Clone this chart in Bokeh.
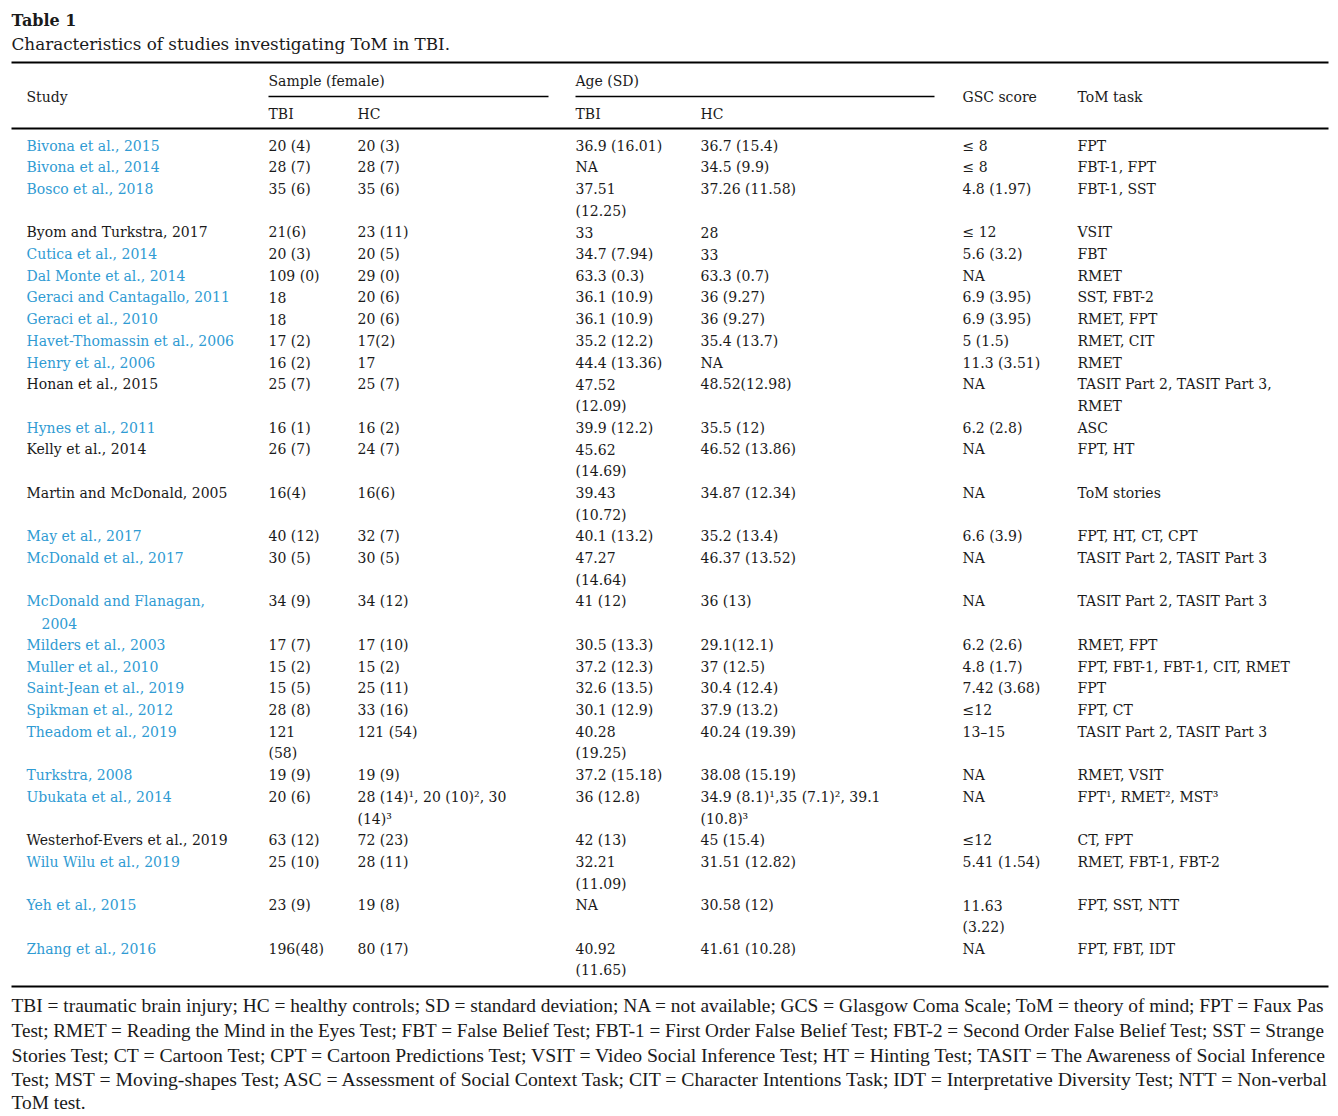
from bokeh.plotting import figure
from bokeh.models import Range1d, ColumnDataSource
from bokeh.core.properties import value
from bokeh.embed import file_html
from bokeh.resources import INLINE

# ---------------- data ----------------
title = "Table 1"
caption = "Characteristics of studies investigating ToM in TBI."

studies = ["Bivona et al., 2015", "Bivona et al., 2014", "Bosco et al., 2018",
           "Byom and Turkstra, 2017", "Cutica et al., 2014", "Dal Monte et al., 2014",
           "Geraci and Cantagallo, 2011", "Geraci et al., 2010", "Havet-Thomassin et al., 2006",
           "Henry et al., 2006", "Honan et al., 2015", "Hynes et al., 2011", "Kelly et al., 2014",
           "Martin and McDonald, 2005", "May et al., 2017", "McDonald et al., 2017",
           "McDonald and Flanagan,\n2004", "Milders et al., 2003", "Muller et al., 2010",
           "Saint-Jean et al., 2019", "Spikman et al., 2012", "Theadom et al., 2019",
           "Turkstra, 2008", "Ubukata et al., 2014", "Westerhof-Evers et al., 2019",
           "Wilu Wilu et al., 2019", "Yeh et al., 2015", "Zhang et al., 2016"]
linked = [1, 1, 1, 0, 1, 1, 1, 1, 1, 1, 0, 1, 0, 0, 1, 1, 1, 1, 1, 1, 1, 1, 1, 1, 0, 1, 1, 1]
sample_tbi = ["20 (4)", "28 (7)", "35 (6)", "21(6)", "20 (3)", "109 (0)", "18", "18", "17 (2)",
              "16 (2)", "25 (7)", "16 (1)", "26 (7)", "16(4)", "40 (12)", "30 (5)", "34 (9)",
              "17 (7)", "15 (2)", "15 (5)", "28 (8)", "121\n(58)", "19 (9)", "20 (6)", "63 (12)",
              "25 (10)", "23 (9)", "196(48)"]
sample_hc = ["20 (3)", "28 (7)", "35 (6)", "23 (11)", "20 (5)", "29 (0)", "20 (6)", "20 (6)",
             "17(2)", "17", "25 (7)", "16 (2)", "24 (7)", "16(6)", "32 (7)", "30 (5)", "34 (12)",
             "17 (10)", "15 (2)", "25 (11)", "33 (16)", "121 (54)", "19 (9)",
             "28 (14)¹, 20 (10)², 30\n(14)³", "72 (23)", "28 (11)", "19 (8)", "80 (17)"]
age_tbi = ["36.9 (16.01)", "NA", "37.51\n(12.25)", "33", "34.7 (7.94)", "63.3 (0.3)",
           "36.1 (10.9)", "36.1 (10.9)", "35.2 (12.2)", "44.4 (13.36)", "47.52\n(12.09)",
           "39.9 (12.2)", "45.62\n(14.69)", "39.43\n(10.72)", "40.1 (13.2)", "47.27\n(14.64)",
           "41 (12)", "30.5 (13.3)", "37.2 (12.3)", "32.6 (13.5)", "30.1 (12.9)", "40.28\n(19.25)",
           "37.2 (15.18)", "36 (12.8)", "42 (13)", "32.21\n(11.09)", "NA", "40.92\n(11.65)"]
age_hc = ["36.7 (15.4)", "34.5 (9.9)", "37.26 (11.58)", "28", "33", "63.3 (0.7)", "36 (9.27)",
          "36 (9.27)", "35.4 (13.7)", "NA", "48.52(12.98)", "35.5 (12)", "46.52 (13.86)",
          "34.87 (12.34)", "35.2 (13.4)", "46.37 (13.52)", "36 (13)", "29.1(12.1)", "37 (12.5)",
          "30.4 (12.4)", "37.9 (13.2)", "40.24 (19.39)", "38.08 (15.19)",
          "34.9 (8.1)¹,35 (7.1)², 39.1\n(10.8)³", "45 (15.4)", "31.51 (12.82)", "30.58 (12)",
          "41.61 (10.28)"]
gsc_score = ["≤ 8", "≤ 8", "4.8 (1.97)", "≤ 12", "5.6 (3.2)", "NA", "6.9 (3.95)", "6.9 (3.95)",
             "5 (1.5)", "11.3 (3.51)", "NA", "6.2 (2.8)", "NA", "NA", "6.6 (3.9)", "NA", "NA",
             "6.2 (2.6)", "4.8 (1.7)", "7.42 (3.68)", "≤12", "13–15", "NA", "NA", "≤12",
             "5.41 (1.54)", "11.63\n(3.22)", "NA"]
tom_task = ["FPT", "FBT-1, FPT", "FBT-1, SST", "VSIT", "FBT", "RMET", "SST, FBT-2", "RMET, FPT",
            "RMET, CIT", "RMET", "TASIT Part 2, TASIT Part 3,\nRMET", "ASC", "FPT, HT",
            "ToM stories", "FPT, HT, CT, CPT", "TASIT Part 2, TASIT Part 3",
            "TASIT Part 2, TASIT Part 3", "RMET, FPT", "FPT, FBT-1, FBT-1, CIT, RMET", "FPT",
            "FPT, CT", "TASIT Part 2, TASIT Part 3", "RMET, VSIT", "FPT¹, RMET², MST³", "CT, FPT",
            "RMET, FBT-1, FBT-2", "FPT, SST, NTT", "FPT, FBT, IDT"]

footnote_lines = [
    "TBI = traumatic brain injury; HC = healthy controls; SD = standard deviation; NA = not available; GCS = Glasgow Coma Scale; ToM = theory of mind; FPT = Faux Pas",
    "Test; RMET = Reading the Mind in the Eyes Test; FBT = False Belief Test; FBT-1 = First Order False Belief Test; FBT-2 = Second Order False Belief Test; SST = Strange",
    "Stories Test; CT = Cartoon Test; CPT = Cartoon Predictions Test; VSIT = Video Social Inference Test; HT = Hinting Test; TASIT = The Awareness of Social Inference",
    "Test; MST = Moving-shapes Test; ASC = Assessment of Social Context Task; CIT = Character Intentions Task; IDT = Interpretative Diversity Test; NTT = Non-verbal",
    "ToM test.",
]

# ---------------- layout ----------------
W, H = 1338, 1116
OFF = 0
BLUE = "#2f9bd3"
INK = "#1a1a1a"
BODY_FONT = "DejaVu Serif"
BODY_SIZE = "14px"
LINE_H = 21.71

col_x = [26, 268, 357, 575, 700, 962, 1077]
col_x = [c - OFF for c in col_x]

p = figure(width=W, height=H, output_backend="svg", toolbar_location=None,
           x_range=Range1d(0, W), y_range=Range1d(H, 0),
           min_border=0, outline_line_color=None)
p.axis.visible = False
p.grid.visible = False
p.background_fill_color = "white"
p.border_fill_color = "white"

def add_text(xs, ys, texts, colors, sizes, font, style="normal"):
    if isinstance(sizes, str):
        sizes = [sizes] * len(texts)
    src = ColumnDataSource(dict(x=xs, y=ys, text=texts, color=colors, size=sizes))
    p.text(x="x", y="y", text="text", source=src, text_color="color",
           text_font=value(font), text_font_size="size", text_font_style=style,
           text_align="left", text_baseline="middle")

# title & caption
add_text([11 - OFF], [20 - OFF], [title], [INK], "16px", BODY_FONT, "bold")
add_text([11 - OFF], [43 - OFF], [caption], [INK], "16.8px", BODY_FONT)

# header
hx = [col_x[0], col_x[1], col_x[1], col_x[2], col_x[3], col_x[3], col_x[4], col_x[5], col_x[6]]
hy = [96, 80, 113, 113, 80, 113, 113, 96, 96]
ht = ["Study", "Sample (female)", "TBI", "HC", "Age (SD)", "TBI", "HC", "GSC score", "ToM task"]
add_text(hx, [y - OFF for y in hy], ht, [INK] * len(ht), BODY_SIZE, BODY_FONT)

# rules
rules_x0 = [11, 268, 575, 11, 11]
rules_x1 = [1328, 548, 934, 1328, 1328]
rules_y = [62, 96, 96, 128, 986]
rules_w = [2, 1.5, 1.5, 2, 2]
p.segment(x0=[x - OFF for x in rules_x0], x1=[x - OFF for x in rules_x1],
          y0=[y - OFF for y in rules_y], y1=[y - OFF for y in rules_y],
          line_color="black", line_width=rules_w)

# body
bx, by, bt, bc = [], [], [], []
line_idx = 0
y0 = 145 - OFF
columns = [studies, sample_tbi, sample_hc, age_tbi, age_hc, gsc_score, tom_task]
for r in range(len(studies)):
    nlines = 1
    for ci, col in enumerate(columns):
        parts = col[r].split("\n")
        nlines = max(nlines, len(parts))
        for k, part in enumerate(parts):
            x = col_x[ci] + (15 if (ci == 0 and k > 0) else 0)
            bx.append(x)
            by.append(y0 + (line_idx + k) * LINE_H)
            bt.append(part)
            bc.append(BLUE if (ci == 0 and linked[r]) else INK)
    line_idx += nlines
add_text(bx, by, bt, bc, BODY_SIZE, BODY_FONT)

# footnote (per-line size approximates the justified setting)
fy = [1005, 1030, 1054, 1078, 1102]
fsizes = ["19.4px", "19.2px", "19.7px", "19.7px", "19.4px"]
add_text([11 - OFF] * len(footnote_lines), [y - OFF for y in fy], footnote_lines,
         [INK] * len(footnote_lines), fsizes, "Liberation Serif")

open("out.html", "w").write(file_html(p, INLINE))
